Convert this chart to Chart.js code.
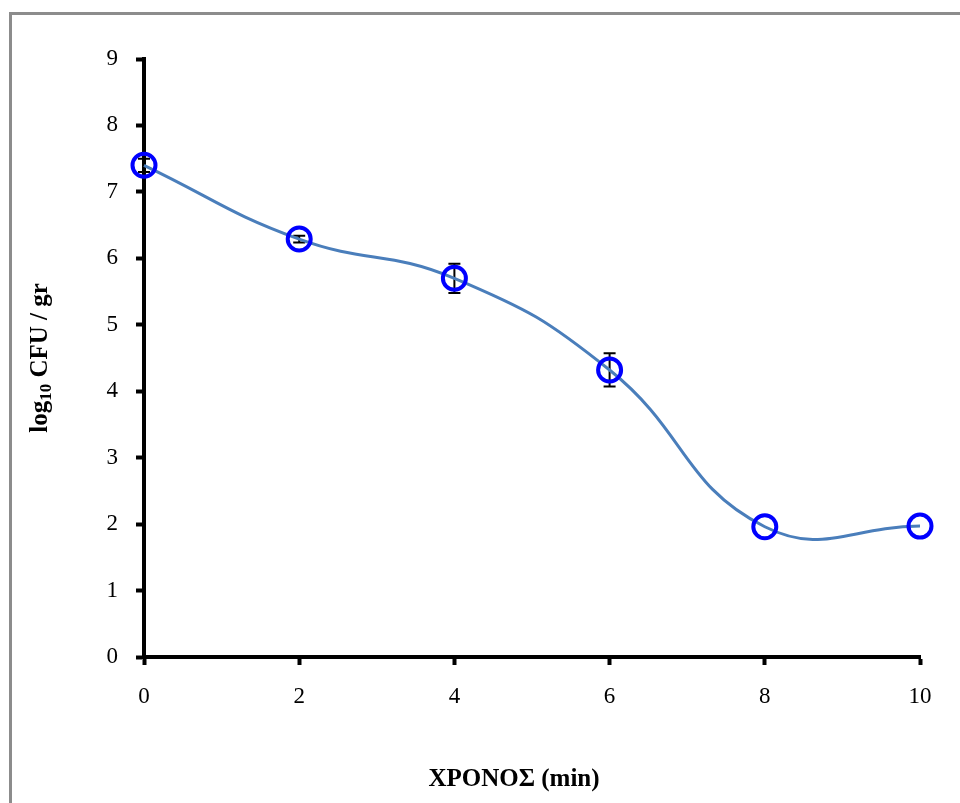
<!DOCTYPE html>
<html>
<head>
<meta charset="utf-8">
<script src="https://cdn.jsdelivr.net/npm/chart.js@4.4.0/dist/chart.umd.min.js"></script>
<style>
  html, body { margin: 0; padding: 0; background: #fff; }
  #wrap { position: relative; width: 960px; height: 803px; overflow: hidden; }
  #frame { position: absolute; left: 9px; top: 12px; width: 1000px; height: 900px; border-top: 3px solid #8c8c8c; border-left: 3px solid #8c8c8c; }
  canvas { position: absolute; left: 0; top: 0; }
</style>
</head>
<body>
<div id="wrap">
  <div id="frame"></div>
  <canvas id="chart" width="960" height="803"></canvas>
</div>
<script>
const timeMin = [0, 2, 4, 6, 8, 10];
const logCfu = [7.40, 6.29, 5.70, 4.32, 1.96, 1.97];
const errCfu = [0.10, 0.05, 0.22, 0.25, 0, 0];
const xTitle = 'ΧΡΟΝΟΣ (min)';

const serif = '"Liberation Serif", "Times New Roman", serif';

// error bars drawn from the data through the scales
const errorBars = {
    id: 'errorBars',
    beforeDatasetsDraw(chart) {
        const ctx = chart.ctx;
        const xs = chart.scales.x;
        const ys = chart.scales.y;
        ctx.save();
        ctx.strokeStyle = '#000';
        ctx.lineWidth = 2;
        timeMin.forEach((t, i) => {
            if (!errCfu[i]) return;
            const px = xs.getPixelForValue(t);
            const top = ys.getPixelForValue(logCfu[i] + errCfu[i]);
            const bot = ys.getPixelForValue(logCfu[i] - errCfu[i]);
            ctx.beginPath();
            ctx.moveTo(px, top); ctx.lineTo(px, bot);
            ctx.moveTo(px - 6, top); ctx.lineTo(px + 6, top);
            ctx.moveTo(px - 6, bot); ctx.lineTo(px + 6, bot);
            ctx.stroke();
        });
        ctx.restore();
    }
};

// axis titles (y title has a subscript)
const axisTitles = {
    id: 'axisTitles',
    afterDraw(chart) {
        const ctx = chart.ctx;
        const area = chart.chartArea;
        ctx.save();
        ctx.fillStyle = '#000';
        ctx.textBaseline = 'alphabetic';
        ctx.font = 'bold 25px ' + serif;
        ctx.textAlign = 'center';
        ctx.fillText(xTitle, (area.left + area.right) / 2 - 18, 786);

        const parts = [
            { text: 'log', font: 'bold 25px ' + serif, dy: 0 },
            { text: '10', font: 'bold 17px ' + serif, dy: 4 },
            { text: ' CFU / gr', font: 'bold 25px ' + serif, dy: 0 }
        ];
        let total = 0;
        parts.forEach(p => { ctx.font = p.font; p.w = ctx.measureText(p.text).width; total += p.w; });
        ctx.translate(47, (area.top + area.bottom) / 2);
        ctx.rotate(-Math.PI / 2);
        ctx.textAlign = 'left';
        let x = -total / 2;
        parts.forEach(p => {
            ctx.font = p.font;
            ctx.fillText(p.text, x, p.dy);
            x += p.w;
        });
        ctx.restore();
    }
};

new Chart(document.getElementById('chart').getContext('2d'), {
    type: 'line',
    data: {
        datasets: [{
            data: timeMin.map((t, i) => ({ x: t, y: logCfu[i] })),
            borderColor: '#4a7ebb',
            borderWidth: 3,
            tension: 0.45,
            fill: false,
            clip: false,
            pointRadius: 11.5,
            pointBorderWidth: 4,
            pointBorderColor: '#0000ff',
            pointBackgroundColor: 'rgba(0,0,0,0)'
        }]
    },
    options: {
        responsive: false,
        animation: false,
        layout: { padding: { top: 59, right: 40, left: 0, bottom: 0 } },
        plugins: { legend: { display: false }, tooltip: { enabled: false } },
        scales: {
            x: {
                type: 'linear',
                min: 0,
                max: 10,
                afterFit: s => { s.height = 803 - 657; },
                ticks: { stepSize: 2, color: '#000', padding: 18, font: { family: serif, size: 23 } },
                grid: { drawOnChartArea: false, drawTicks: true, tickLength: 8, tickColor: '#000', tickWidth: 4 },
                border: { display: true, color: '#000', width: 4 }
            },
            y: {
                min: 0,
                max: 9,
                afterFit: s => { s.width = 144; },
                ticks: { stepSize: 1, color: '#000', padding: 18, font: { family: serif, size: 23 } },
                grid: { drawOnChartArea: false, drawTicks: true, tickLength: 8, tickColor: '#000', tickWidth: 4 },
                border: { display: true, color: '#000', width: 4 }
            }
        }
    },
    plugins: [errorBars, axisTitles]
});
</script>
</body>
</html>
